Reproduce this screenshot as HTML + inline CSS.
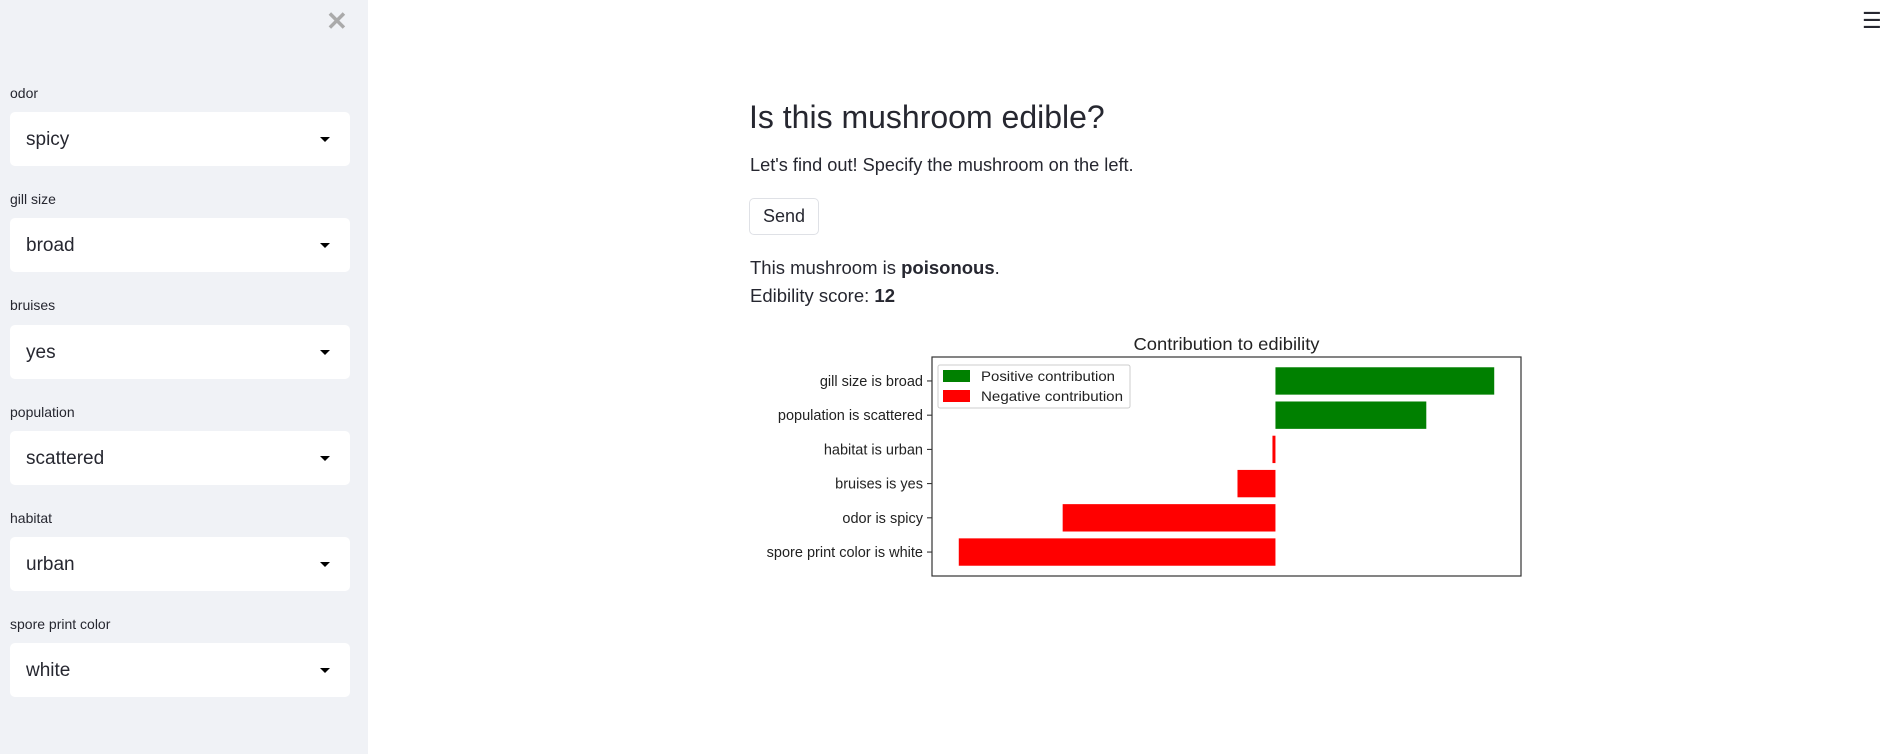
<!DOCTYPE html>
<html><head><meta charset="utf-8"><style>
*{box-sizing:border-box;margin:0;padding:0}
body{width:1893px;height:754px;position:relative;background:#fff;font-family:"Liberation Sans",sans-serif;color:#262730;overflow:hidden}
#sidebar{position:absolute;left:0;top:0;width:368px;height:754px;background:#f0f2f6}
.lbl{position:absolute;left:10px;font-size:14px;color:#262730}
.sel{position:absolute;left:10px;width:340px;height:54px;background:#fff;border-radius:5px}
.sel span{position:absolute;left:16px;top:17px;font-size:19px}
.sel i{position:absolute;right:20px;top:25px;width:0;height:0;border-left:5px solid transparent;border-right:5px solid transparent;border-top:5px solid #000}
.t{position:absolute;white-space:nowrap}
</style></head><body>
<div id="sidebar">
<div class="t" style="left:326px;top:6px;font-size:26px;color:#aaa;font-weight:bold">✕</div>
<div class="lbl" style="top:85px">odor</div>
<div class="sel" style="top:112px"><span>spicy</span><i></i></div>
<div class="lbl" style="top:191px">gill size</div>
<div class="sel" style="top:218px"><span>broad</span><i></i></div>
<div class="lbl" style="top:297px">bruises</div>
<div class="sel" style="top:325px"><span>yes</span><i></i></div>
<div class="lbl" style="top:404px">population</div>
<div class="sel" style="top:431px"><span>scattered</span><i></i></div>
<div class="lbl" style="top:510px">habitat</div>
<div class="sel" style="top:537px"><span>urban</span><i></i></div>
<div class="lbl" style="top:616px">spore print color</div>
<div class="sel" style="top:643px"><span>white</span><i></i></div>
</div>
<div class="t" style="left:1862px;top:8px;font-size:22px;color:#262730">☰</div>
<div class="t" style="left:749px;top:99px;font-size:32px;color:#262730">Is this mushroom edible?</div>
<div class="t" style="left:750px;top:155px;font-size:18.2px">Let's find out! Specify the mushroom on the left.</div>
<div class="t" style="left:749px;top:198px;width:70px;height:37px;border:1px solid #dfe1e6;border-radius:5px;font-size:18px;text-align:center;line-height:35px">Send</div>
<div class="t" style="left:750px;top:257px;font-size:18.5px">This mushroom is <b>poisonous</b>.</div>
<div class="t" style="left:750px;top:285px;font-size:18.5px">Edibility score: <b>12</b></div>
<svg id="chart" style="position:absolute;left:0;top:0" width="1893" height="754"></svg>
<script>
const categories=["gill size is broad","population is scattered","habitat is urban","bruises is yes","odor is spicy","spore print color is white"];
const values=[2.19,1.51,-0.03,-0.38,-2.13,-3.17];
const svg=document.getElementById('chart');
const NS='http://www.w3.org/2000/svg';
const L=932,R=1521,T=357,B=576;
const mn=Math.min(0,...values),mx=Math.max(0,...values),pad=(mx-mn)*0.05;
const x=v=>L+(v-(mn-pad))/((mx+pad)-(mn-pad))*(R-L);
const step=(B-T)/(categories.length+0.4);
const y=i=>T+step*0.7+i*step;
function mk(tag,a){const e=document.createElementNS(NS,tag);for(const k in a)e.setAttribute(k,a[k]);svg.appendChild(e);return e;}
const title=mk('text',{x:(L+R)/2,y:350,'text-anchor':'middle','font-size':'17.5','font-family':'Liberation Sans, sans-serif',fill:'#222',textLength:186,lengthAdjust:'spacingAndGlyphs'});
title.textContent='Contribution to edibility';


values.forEach((v,i)=>{
 const r=mk('rect',{x:Math.min(x(0),x(v)),y:y(i)-step*0.4,width:Math.max(2,Math.abs(x(v)-x(0))),height:step*0.8,fill:v>=0?'#008000':'#ff0000'});
 
 
 mk('line',{x1:L-5,x2:L,y1:y(i),y2:y(i),stroke:'#222','stroke-width':1});
 const t=mk('text',{x:L-9,y:y(i)+5,'text-anchor':'end','font-size':'14.5','font-family':'Liberation Sans, sans-serif',fill:'#222'});
 t.textContent=categories[i];
 
 
});
const fr=mk('rect',{x:L,y:T,width:R-L,height:B-T,fill:'none',stroke:'#333','stroke-width':1.2});


const lg=mk('rect',{x:938,y:365,width:192,height:43,fill:'#fff',stroke:'#ccc',rx:2});


[['#008000','Positive contribution',376,134],['#ff0000','Negative contribution',396,142]].forEach(([c,l,yy,w])=>{
 mk('rect',{x:943,y:yy-6,width:27,height:12,fill:c});
 const t=mk('text',{x:981,y:yy+5,'font-size':'14','font-family':'Liberation Sans, sans-serif',fill:'#222',textLength:w,lengthAdjust:'spacingAndGlyphs'});
 t.textContent=l;
 
 
});
</script>
</body></html>
